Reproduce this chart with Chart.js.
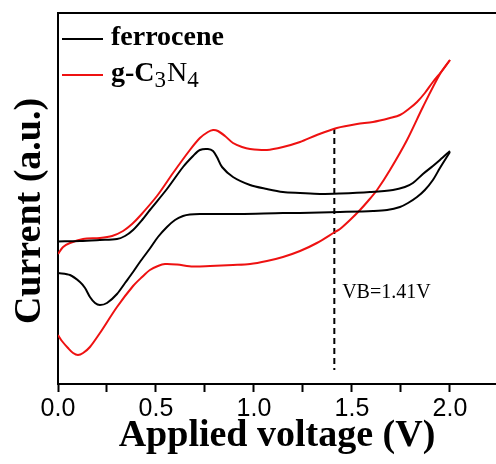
<!DOCTYPE html>
<html>
<head>
<meta charset="utf-8">
<script src="https://cdn.jsdelivr.net/npm/chart.js@4.4.1/dist/chart.umd.min.js"></script>
<style>
  html, body { margin: 0; padding: 0; background: #fff; overflow: hidden; }
  #wrap { width: 496px; height: 464px; position: relative; }
</style>
</head>
<body>
<div id="wrap"><canvas id="c"></canvas></div>
<script>
// ---- data (x: applied voltage in V, y: current in arbitrary units) ----
const seriesLabels = ['ferrocene', 'g-C3N4'];

const ferroFwdV = [0, 0.112, 0.214, 0.301, 0.342, 0.383, 0.429, 0.469, 0.556, 0.638, 0.689, 0.724, 0.765, 0.791, 0.811, 0.837, 0.893, 0.980, 1.066, 1.148, 1.235, 1.337, 1.439, 1.592, 1.709, 1.770, 1.811, 1.862, 1.913, 1.949, 2.0];
const ferroFwdI = [142.5, 143, 144, 145, 148, 154, 164, 174, 195, 217, 228, 234, 235, 233, 227, 217, 207, 199, 195, 192, 191, 190, 190.5, 192, 194, 197, 201, 210, 218, 224, 233];

const ferroRevV = [2.0, 1.949, 1.913, 1.872, 1.832, 1.786, 1.745, 1.679, 1.607, 1.439, 1.235, 1.148, 0.929, 0.724, 0.673, 0.638, 0.597, 0.556, 0.510, 0.469, 0.418, 0.383, 0.342, 0.301, 0.250, 0.214, 0.189, 0.163, 0.138, 0.112, 0.061, 0];
const ferroRevI = [232, 216, 204, 194, 187, 181, 177, 174, 173, 172, 171, 171, 170, 170, 169.5, 168, 164, 157, 147, 135.5, 122, 112, 101, 90, 81, 79, 81, 87, 96, 102, 109, 111];

const c3n4FwdV = [0, 0.026, 0.061, 0.128, 0.214, 0.276, 0.332, 0.378, 0.418, 0.505, 0.587, 0.673, 0.724, 0.765, 0.791, 0.816, 0.852, 0.893, 0.939, 0.980, 1.066, 1.148, 1.235, 1.321, 1.423, 1.526, 1.607, 1.694, 1.745, 1.796, 1.832, 1.872, 1.913, 1.959, 2.0];
const c3n4FwdI = [130, 137, 141, 145, 146, 148, 153, 160, 168, 188, 211, 234, 246, 252, 254, 253, 248, 241, 237, 235, 234, 237, 242, 249, 256, 260, 262, 266, 269, 276, 282, 291, 302, 313, 324];

const c3n4RevV = [2.0, 1.949, 1.862, 1.781, 1.694, 1.628, 1.582, 1.541, 1.490, 1.439, 1.413, 1.321, 1.235, 1.148, 1.066, 0.980, 0.893, 0.776, 0.689, 0.607, 0.546, 0.510, 0.469, 0.429, 0.383, 0.301, 0.214, 0.163, 0.128, 0.102, 0.077, 0.051, 0.020, 0];
const c3n4RevI = [324, 310, 277, 244, 214, 194, 183, 174, 164, 155, 152, 141, 133, 127, 123, 120, 119, 118, 117.5, 119.5, 120, 118, 114, 107, 98, 77, 51, 37, 31, 29, 31, 36, 43, 49];

const vbV = [1.41, 1.41];
const vbI = [256, 14];
const vbLabel = 'VB=1.41V';

const xTickValues = [0, 0.25, 0.5, 0.75, 1.0, 1.25, 1.5, 1.75, 2.0];
const xTickLabels = ['0.0', '', '0.5', '', '1.0', '', '1.5', '', '2.0'];
const xTitle = 'Applied voltage (V)';
const yTitle = 'Current (a.u.)';

const BLACK = '#000000';
const RED = '#ee1111';
const SERIF = '"Liberation Serif", "Times New Roman", serif';

function pts(xs, ys) { return xs.map((x, i) => ({ x: x, y: ys[i] })); }

const lineDs = (data, color, extra) => Object.assign({
  data: data, borderColor: color, backgroundColor: color,
  borderWidth: 2, pointRadius: 0, showLine: true, tension: 0.3, fill: false
}, extra || {});

// custom legend (with subscripts), y-axis title and annotation text
const decorPlugin = {
  id: 'decor',
  afterDraw(chart) {
    const ctx = chart.ctx;
    const xs = chart.scales.x, ys = chart.scales.y;
    ctx.save();
    // legend
    const items = [{ label: seriesLabels[0], color: BLACK, y: 39 }, { label: seriesLabels[1], color: RED, y: 75 }];
    items.forEach(it => {
      ctx.strokeStyle = it.color;
      ctx.lineWidth = 2;
      ctx.beginPath();
      ctx.moveTo(62, it.y);
      ctx.lineTo(103, it.y);
      ctx.stroke();
      ctx.fillStyle = BLACK;
      ctx.textBaseline = 'alphabetic';
      ctx.textAlign = 'left';
      let x = 111;
      const base = it.y + 6;
      const runs = it.label.match(/[0-9]+|[^0-9]+/g);
      runs.forEach(r => {
        if (/^[0-9]+$/.test(r)) {
          ctx.font = '23px ' + SERIF;
          ctx.fillText(r, x, base + 6);
          x += ctx.measureText(r).width + 1;
        } else {
          for (const seg of r.split(/(N)/)) {
            if (!seg) continue;
            ctx.font = (seg === 'N' ? '' : 'bold ') + '28px ' + SERIF;
            ctx.fillText(seg, x, base);
            x += ctx.measureText(seg).width;
          }
        }
      });
    });
    // y-axis title
    ctx.save();
    ctx.translate(30, 211);
    ctx.rotate(-Math.PI / 2);
    ctx.font = 'bold 38px ' + SERIF;
    ctx.textAlign = 'center';
    ctx.textBaseline = 'middle';
    ctx.fillStyle = BLACK;
    ctx.fillText(yTitle, 0, 0);
    ctx.restore();
    // VB annotation
    ctx.font = '20px ' + SERIF;
    ctx.fillStyle = BLACK;
    ctx.textBaseline = 'middle';
    ctx.textAlign = 'left';
    ctx.fillText(vbLabel, xs.getPixelForValue(1.45), ys.getPixelForValue(91));
    ctx.restore();
  }
};

new Chart(document.getElementById('c'), {
  type: 'scatter',
  data: {
    datasets: [
      lineDs(pts(ferroFwdV, ferroFwdI), BLACK, { label: seriesLabels[0] }),
      lineDs(pts(ferroRevV, ferroRevI), BLACK, { label: seriesLabels[0] + ' reverse' }),
      lineDs(pts(c3n4FwdV, c3n4FwdI), RED, { label: seriesLabels[1] }),
      lineDs(pts(c3n4RevV, c3n4RevI), RED, { label: seriesLabels[1] + ' reverse' }),
      lineDs(pts(vbV, vbI), BLACK, { label: 'VB', tension: 0, borderDash: [6, 4] })
    ]
  },
  options: {
    responsive: true,
    maintainAspectRatio: false,
    animation: false,
    layout: { padding: { top: 13, left: 0, right: 0, bottom: 0 } },
    plugins: { legend: { display: false }, tooltip: { enabled: false } },
    scales: {
      x: {
        type: 'linear', position: 'bottom', min: 0, max: 2.235,
        afterBuildTicks: s => { s.ticks = xTickValues.map(v => ({ value: v })); },
        afterFit: s => { s.height = 80; },
        ticks: {
          autoSkip: false, maxRotation: 0, padding: 2, color: BLACK,
          font: { family: '"Liberation Sans", Arial, sans-serif', size: 25 },
          callback: (v, i) => xTickLabels[i]
        },
        grid: { drawOnChartArea: false, drawTicks: true, tickLength: 8, tickColor: BLACK, tickWidth: 2, color: BLACK },
        border: { display: true, color: BLACK, width: 2 },
        title: {
          display: true, text: xTitle, color: BLACK, padding: { top: 0, bottom: 9 },
          font: { family: SERIF, size: 38, weight: 'bold', lineHeight: 1 }
        }
      },
      x2: {
        type: 'linear', position: 'top', min: 0, max: 2.235,
        afterFit: s => { s.height = 0; },
        ticks: { display: false },
        grid: { display: false, drawTicks: false },
        border: { display: true, color: BLACK, width: 2 }
      },
      y: {
        type: 'linear', position: 'left', min: 0, max: 371,
        afterFit: s => { s.width = 58; },
        ticks: { display: false },
        grid: { display: false, drawTicks: false },
        border: { display: true, color: BLACK, width: 2 },
        title: { display: false, text: yTitle }
      }
    }
  },
  plugins: [decorPlugin]
});
</script>
</body>
</html>
